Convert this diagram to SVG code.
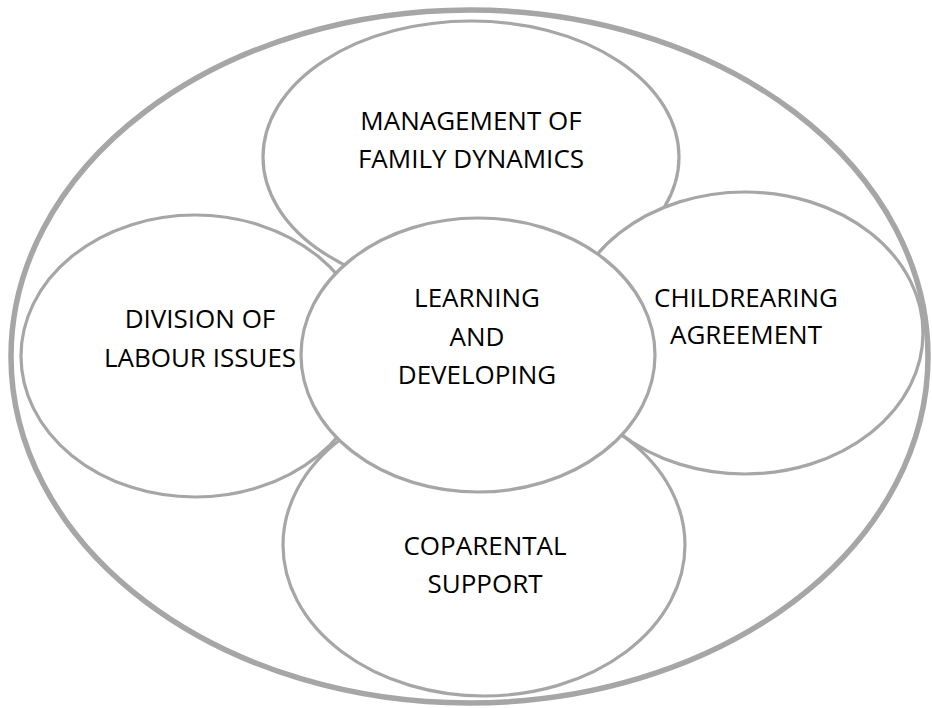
<svg xmlns="http://www.w3.org/2000/svg" width="932" height="708" viewBox="0 0 932 708">
<style>
.n{fill:#fff;stroke:#a6a6a6;stroke-width:3.2}
.o{fill:#fff;stroke:#a6a6a6;stroke-width:5.5}
text{font-family:"Open Sans","Noto Sans",sans-serif;font-size:26px;fill:#000;text-anchor:middle}
</style>
<rect width="932" height="708" fill="#fff"/>
<g id="outer"><ellipse class="o" cx="469.5" cy="356.5" rx="458.5" ry="346.5"/></g>
<g id="connectors"></g>
<g id="coparental"><ellipse class="n" cx="484" cy="545" rx="201" ry="151"/>
<text x="485" y="555">COPARENTAL</text><text x="485" y="593">SUPPORT</text></g>
<g id="management"><ellipse class="n" cx="471" cy="157" rx="208" ry="136"/>
<text x="471" y="130">MANAGEMENT OF</text><text x="471" y="168">FAMILY DYNAMICS</text></g>
<g id="division"><ellipse class="n" cx="195" cy="356" rx="174" ry="141"/>
<text x="200" y="328">DIVISION OF</text><text x="200" y="367">LABOUR ISSUES</text></g>
<g id="childrearing"><ellipse class="n" cx="745" cy="333" rx="178" ry="141"/>
<text x="746" y="307">CHILDREARING</text><text x="746" y="344">AGREEMENT</text></g>
<g id="learning"><ellipse class="n" cx="478" cy="355" rx="177" ry="137"/>
<text x="477" y="307">LEARNING</text><text x="477" y="346">AND</text><text x="477" y="384">DEVELOPING</text></g>
</svg>
